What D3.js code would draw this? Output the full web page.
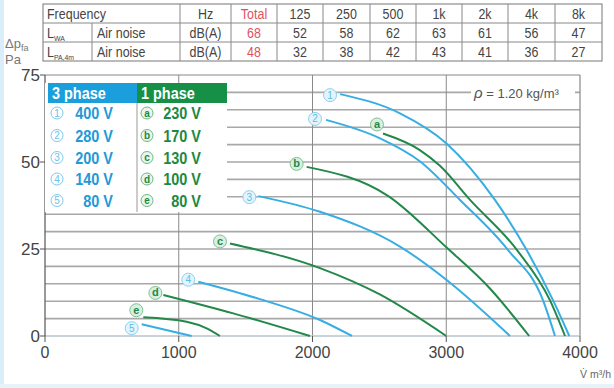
<!DOCTYPE html>
<html><head><meta charset="utf-8">
<script src="https://cdn.jsdelivr.net/npm/d3@7"></script>
<style>
html,body{margin:0;padding:0;background:#fff;}
svg{display:block;}
</style></head>
<body>
<svg id="c" width="614" height="388"></svg>
<script>
// ---------- data ----------
const freqLabels = ["Total","125","250","500","1k","2k","4k","8k"];
const lwaValues  = [68,52,58,62,63,61,56,47];
const lpaValues  = [48,32,38,42,43,41,36,27];
const xTicks = [0,1000,2000,3000,4000];
const yTicks = [0,25,50,75];
const legend3 = [["①","400 V"],["②","280 V"],["③","200 V"],["④","140 V"],["⑤","80 V"]];
const legend1 = [["ⓐ","230 V"],["ⓑ","170 V"],["ⓒ","130 V"],["ⓓ","100 V"],["ⓔ","80 V"]];

const curve1 = [[2206,69.5],[2654,64],[3000,55.4],[3364,39.1],[3601,24.7],[3798,10.3],[3920,0]];
const curve2 = [[2101,62.1],[2505,56.8],[2800,50.3],[3103,39.1],[3462,24.7],[3723,10.3],[3813,0]];
const curve3 = [[1595,40.2],[2056,35.7],[2654,25.7],[3003,16.1],[3477,0]];
const curve4 = [[1146,15.6],[1607,10.6],[2056,4.6],[2295,0]];
const curve5 = [[723,3.4],[1009,0.8],[1097,0]];
const curveA = [[2527,58.2],[2800,53.5],[2953,48.9],[3178,39.1],[3529,24.7],[3775,10.3],[3888,0]];
const curveB = [[1956,48.6],[2567,40.2],[3003,25.4],[3330,13.5],[3620,0]];
const curveC = [[1383,26.6],[2056,19.5],[2500,12],[3000,0]];
const curveD = [[885,11.8],[1408,6.5],[1981,0]];
const curveE = [[735,5.4],[1059,4.1],[1209,2.2],[1308,0]];

const BLUE="#36aee3", GREEN="#23884a", BLUE_T="#1e9ad6", GREEN_T="#1b8a40";
const series = [
  {id:"①", pts:curve1, c:BLUE, off:[-10,1]},
  {id:"②", pts:curve2, c:BLUE, off:[-11,-1]},
  {id:"③", pts:curve3, c:BLUE, off:[-9,1]},
  {id:"④", pts:curve4, c:BLUE, off:[-10,-2]},
  {id:"⑤", pts:curve5, c:BLUE, off:[-10,4]},
  {id:"a", pts:curveA, c:GREEN, off:[-6,-9]},
  {id:"b", pts:curveB, c:GREEN, off:[-10,-3]},
  {id:"c", pts:curveC, c:GREEN, off:[-10,-2]},
  {id:"d", pts:curveD, c:GREEN, off:[-8,-2]},
  {id:"e", pts:curveE, c:GREEN, off:[-7,-7]}
];

// ---------- layout ----------
const svg = d3.select("#c");
const FONT = "'Liberation Sans',Arial,sans-serif";
const x = d3.scaleLinear().domain([0,4000]).range([45,580]);
const y = d3.scaleLinear().domain([0,75]).range([336,75]);

// light blue edges
svg.append("rect").attr("x",0).attr("y",0).attr("width",4).attr("height",388).attr("fill","#d9eef8");
svg.append("rect").attr("x",0).attr("y",384).attr("width",614).attr("height",4).attr("fill","#e6f4fa");

// condensed text helper
const ctext = (g,txt,xx,yy,opts)=>{
  const o = Object.assign({anchor:"start",size:14,fill:"#444",weight:"normal",sx:0.86},opts||{});
  const t = g.append("text").attr("transform",`translate(${xx},${yy}) scale(${o.sx},1)`)
    .attr("text-anchor",o.anchor).attr("font-family",FONT).attr("font-size",o.size)
    .attr("font-weight",o.weight).attr("fill",o.fill).text(txt);
  return t;
};

// ---------- table ----------
const colB = [43,92,180,231,277,323,370,416,462,508,555,602];
const rowB = [4,23,42,61];
const tg = svg.append("g");
tg.append("rect").attr("x",colB[0]).attr("y",rowB[0]).attr("width",colB[11]-colB[0]).attr("height",rowB[3]-rowB[0])
  .attr("fill","#fff").attr("stroke","#777").attr("stroke-width",1);
rowB.slice(1,3).forEach(r=>tg.append("line").attr("x1",colB[0]).attr("x2",colB[11]).attr("y1",r).attr("y2",r).attr("stroke","#888"));
colB.slice(2,11).forEach(c=>tg.append("line").attr("x1",c).attr("x2",c).attr("y1",rowB[0]).attr("y2",rowB[3]).attr("stroke","#888"));
tg.append("line").attr("x1",colB[1]).attr("x2",colB[1]).attr("y1",rowB[1]).attr("y2",rowB[3]).attr("stroke","#888");
const tt = (txt,xx,yy,anchor,col)=>ctext(tg,txt,xx,yy,{anchor:anchor||"start",fill:col||"#444",size:14.5});
tt("Frequency",47,19);
tt("Hz",(colB[2]+colB[3])/2,19,"middle");
const l1 = tt("L",47,38); l1.append("tspan").attr("font-size",8).attr("dy",3).text("WA");
const l2 = tt("L",47,57); l2.append("tspan").attr("font-size",8).attr("dy",3).text("PA,4m");
tt("Air noise",97,38); tt("Air noise",97,57);
tt("dB(A)",(colB[2]+colB[3])/2,38,"middle"); tt("dB(A)",(colB[2]+colB[3])/2,57,"middle");
freqLabels.forEach((f,i)=>{
  const cx=(colB[3+i]+colB[4+i])/2, col = i===0?"#e2505e":"#444";
  tt(f,cx,19,"middle",col);
  tt(String(lwaValues[i]),cx,38,"middle",col);
  tt(String(lpaValues[i]),cx,57,"middle",col);
});

// ---------- grid ----------
const gg = svg.append("g");
d3.range(5,75,5).forEach(v=>gg.append("line").attr("x1",x(0)).attr("x2",x(4000)).attr("y1",y(v)).attr("y2",y(v))
  .attr("stroke","#a8a8a8").attr("stroke-width",1.6));
[1000,2000,3000].forEach(v=>gg.append("line").attr("x1",x(v)).attr("x2",x(v)).attr("y1",y(0)).attr("y2",y(75))
  .attr("stroke","#8a8a8a").attr("stroke-width",1));
gg.append("line").attr("x1",x(0)).attr("x2",x(4000)).attr("y1",y(75)).attr("y2",y(75)).attr("stroke","#888").attr("stroke-width",1.2);
gg.append("line").attr("x1",x(4000)).attr("x2",x(4000)).attr("y1",y(0)).attr("y2",y(75)).attr("stroke","#888").attr("stroke-width",1.2);
gg.append("line").attr("x1",x(0)).attr("x2",x(4000)).attr("y1",y(0)).attr("y2",y(0)).attr("stroke","#b8c4cc").attr("stroke-width",1.6);

// axes
const ax = svg.append("g").attr("font-family",FONT);
ax.append("line").attr("x1",x(0)).attr("x2",x(0)).attr("y1",y(0)).attr("y2",y(75)).attr("stroke","#555").attr("stroke-width",1.2);
yTicks.forEach(v=>{
  ax.append("line").attr("x1",x(0)-5).attr("x2",x(0)).attr("y1",y(v)).attr("y2",y(v)).attr("stroke","#555");
  ax.append("text").attr("x",x(0)-5).attr("y",y(v)+6).attr("text-anchor","end").attr("font-size",17).attr("fill","#444").text(v);
});
xTicks.forEach(v=>{
  ax.append("line").attr("x1",x(v)).attr("x2",x(v)).attr("y1",y(0)).attr("y2",y(0)+6).attr("stroke","#555");
  ax.append("text").attr("x",x(v)).attr("y",y(0)+22).attr("text-anchor","middle").attr("font-size",16).attr("fill","#444").text(v);
});
const yl = ax.append("text").attr("x",5).attr("y",48).attr("font-size",13).attr("fill","#777").text("Δp");
yl.append("tspan").attr("font-size",9).attr("dy",3).text("fa");
ax.append("text").attr("x",5).attr("y",64).attr("font-size",13).attr("fill","#777").text("Pa");
ax.append("text").attr("x",611).attr("y",378).attr("text-anchor","end").attr("font-size",10.5).attr("fill","#666").text("V̇ m³/h");

// rho
svg.append("rect").attr("x",471).attr("y",85).attr("width",104).attr("height",15).attr("fill","#fff");
const rt = svg.append("text").attr("x",474).attr("y",98).attr("font-family",FONT)
  .attr("font-size",13).attr("fill","#555");
rt.append("tspan").attr("font-style","italic").attr("font-size",15).text("ρ");
rt.append("tspan").text(" = 1.20 kg/m³");

// ---------- curves ----------
const line = d3.line().x(d=>x(d[0])).y(d=>y(d[1])).curve(d3.curveMonotoneX);
const cg = svg.append("g");
series.forEach(s=>{
  cg.append("path").attr("d",line(s.pts)).attr("fill","none").attr("stroke",s.c).attr("stroke-width",2);
});
series.forEach(s=>{
  const p = s.pts[0];
  const cx = x(p[0])+s.off[0], cy = y(p[1])+s.off[1];
  const isBlue = s.c===BLUE;
  cg.append("circle").attr("cx",cx).attr("cy",cy).attr("r",6.5)
    .attr("fill",isBlue?"#e3f4fc":"#d9efe0").attr("stroke",isBlue?"#8fd0ee":"#7fc294").attr("stroke-width",1);
  if(isBlue){
    cg.append("text").attr("x",cx).attr("y",cy+3.5).attr("text-anchor","middle").attr("font-family",FONT)
      .attr("font-size",10).attr("fill","#5bbde8").text(String("①②③④⑤".indexOf(s.id)+1));
  } else {
    cg.append("text").attr("x",cx).attr("y",cy+3.5).attr("text-anchor","middle").attr("font-family",FONT)
      .attr("font-weight","bold").attr("font-size",11).attr("fill",GREEN).text(s.id);
  }
});

// ---------- legend ----------
const lg = svg.append("g");
lg.append("rect").attr("x",45).attr("y",83).attr("width",182).attr("height",129).attr("fill","#fff");
lg.append("rect").attr("x",48).attr("y",83).attr("width",89).attr("height",20).attr("fill","#1b9fdc");
lg.append("rect").attr("x",137).attr("y",83).attr("width",90).attr("height",20).attr("fill","#169046");
lg.append("line").attr("x1",137).attr("x2",137).attr("y1",103).attr("y2",212).attr("stroke","#999");
ctext(lg,"3 phase",52,99,{weight:"bold",size:17,fill:"#fff",sx:0.85});
ctext(lg,"1 phase",141,99,{weight:"bold",size:17,fill:"#fff",sx:0.85});
const rowY = [113,135.5,157.5,179,200.5];
legend3.forEach((d,i)=>{
  lg.append("circle").attr("cx",57).attr("cy",rowY[i]).attr("r",6).attr("fill","none").attr("stroke","#7cc9ec").attr("stroke-width",1);
  lg.append("text").attr("x",57).attr("y",rowY[i]+3.5).attr("text-anchor","middle").attr("font-family",FONT).attr("font-size",10).attr("fill","#6cc2ea").text(i+1);
  ctext(lg,d[1],113,rowY[i]+6,{anchor:"end",weight:"bold",size:17,fill:BLUE_T,sx:0.85});
});
legend1.forEach((d,i)=>{
  lg.append("circle").attr("cx",147).attr("cy",rowY[i]).attr("r",6).attr("fill","#e9f5ed").attr("stroke","#6fb885").attr("stroke-width",1);
  lg.append("text").attr("x",147).attr("y",rowY[i]+3.5).attr("text-anchor","middle").attr("font-family",FONT).attr("font-weight","bold").attr("font-size",10).attr("fill",GREEN_T).text("abcde"[i]);
  ctext(lg,d[1],201,rowY[i]+6,{anchor:"end",weight:"bold",size:17,fill:GREEN_T,sx:0.85});
});
</script>
</body></html>
